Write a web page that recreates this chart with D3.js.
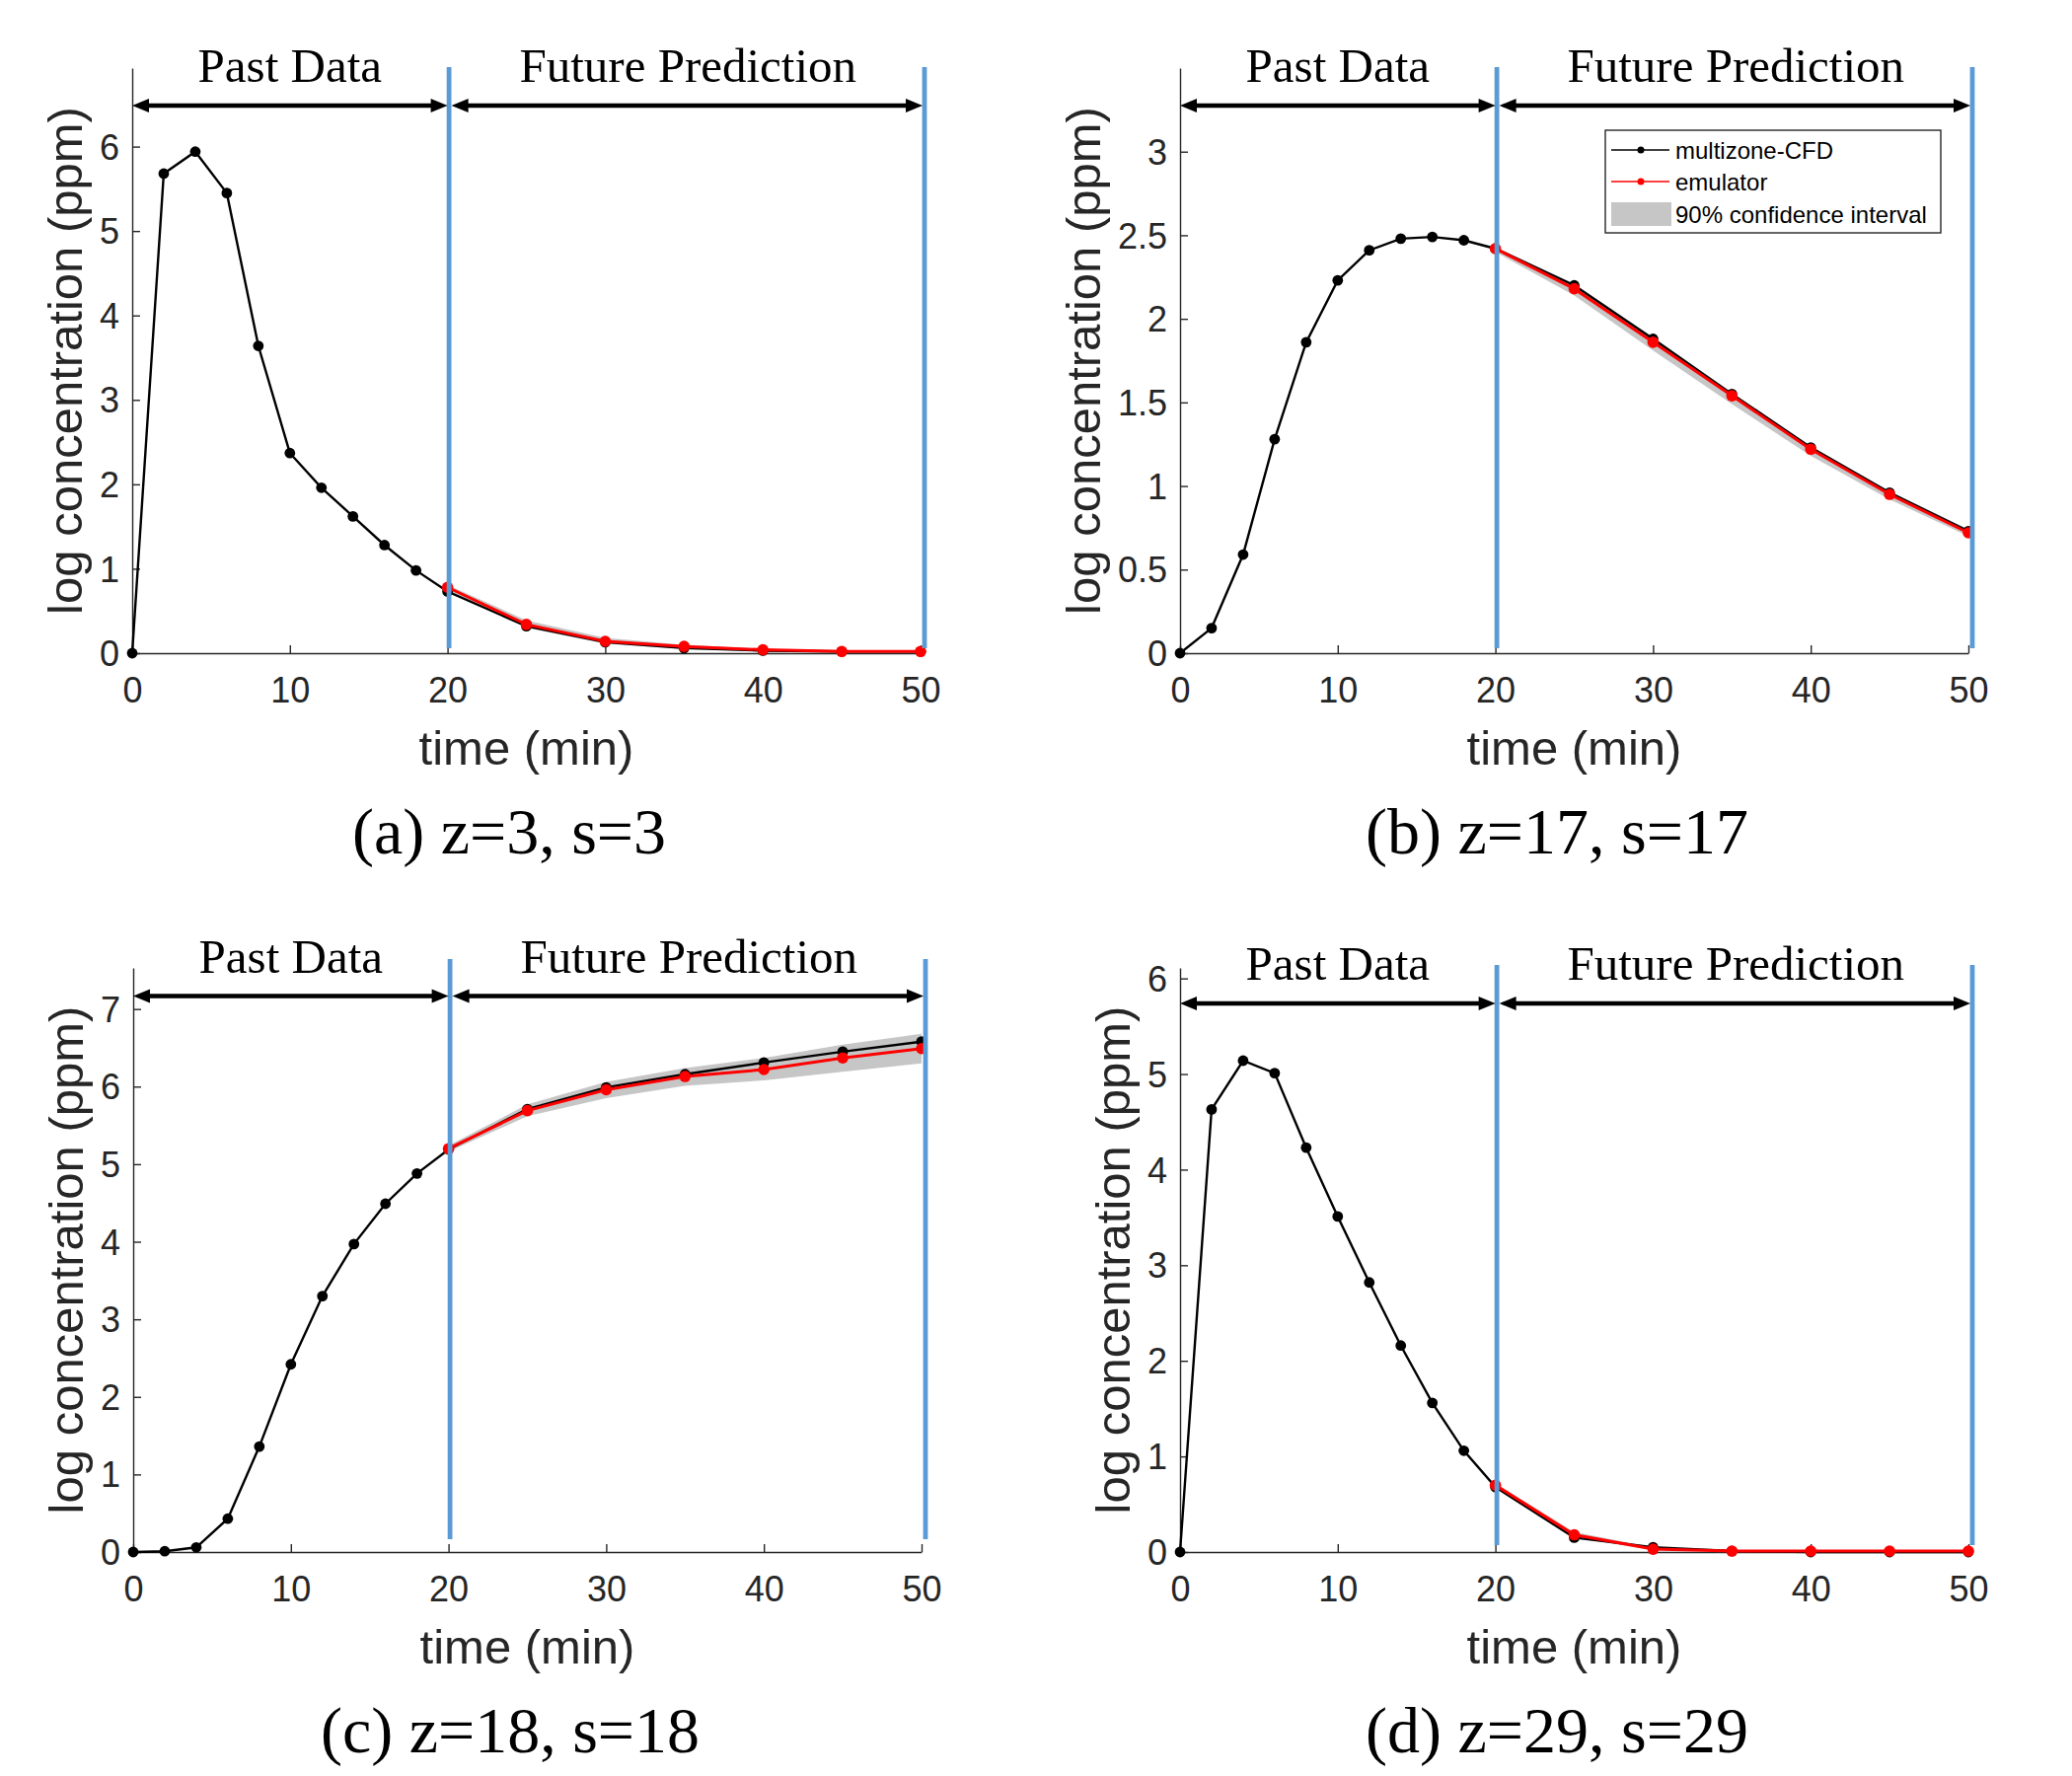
<!DOCTYPE html>
<html>
<head>
<meta charset="utf-8">
<script src="https://cdn.jsdelivr.net/npm/d3@7"></script>
<style>
  body { margin: 0; background: #fff; }
  .axis text { font-family: "Liberation Sans", Arial, sans-serif; font-size: 36px; fill: #262626; }
  .axis path, .axis line { stroke: #262626; stroke-width: 1.4; }
  .axis-title { font-family: "Liberation Sans", Arial, sans-serif; font-size: 49px; fill: #262626; }
  .section-title { font-family: "Liberation Serif", "Times New Roman", serif; font-size: 49px; fill: #000; }
  .caption { font-family: "Liberation Serif", "Times New Roman", serif; font-size: 66px; fill: #000; }
  .legend-text { font-family: "Liberation Sans", Arial, sans-serif; font-size: 24px; fill: #000; }
</style>
</head>
<body>
<svg id="figure" width="2100" height="1800"></svg>
<script>
// shared time grid (min)
const timePoints = [0, 2, 4, 6, 8, 10, 12, 14, 16, 18, 20, 25, 30, 35, 40, 45, 50];
const futureTimes = [20, 25, 30, 35, 40, 45, 50];
const xTickValues = [0, 10, 20, 30, 40, 50];

// (a) z=3, s=3
const cfdA = [0, 5.68, 5.94, 5.45, 3.64, 2.37, 1.96, 1.62, 1.28, 0.98, 0.73, 0.32, 0.13, 0.06, 0.03, 0.02, 0.02];
const emuA = [0.78, 0.34, 0.14, 0.08, 0.04, 0.02, 0.02];
const ciLowA = [0.74, 0.30, 0.11, 0.05, 0.02, 0.01, 0.01];
const ciHighA = [0.81, 0.39, 0.18, 0.10, 0.05, 0.03, 0.03];
const yTicksA = [0, 1, 2, 3, 4, 5, 6];

// (b) z=17, s=17
const cfdB = [0, 0.15, 0.59, 1.28, 1.86, 2.23, 2.41, 2.48, 2.49, 2.47, 2.42, 2.20, 1.88, 1.55, 1.23, 0.96, 0.73];
const emuB = [2.42, 2.18, 1.86, 1.54, 1.22, 0.95, 0.72];
const ciLowB = [2.40, 2.14, 1.81, 1.49, 1.18, 0.92, 0.70];
const ciHighB = [2.43, 2.21, 1.89, 1.56, 1.24, 0.97, 0.74];
const yTicksB = [0, 0.5, 1, 1.5, 2, 2.5, 3];

// (c) z=18, s=18
const cfdC = [0, 0.01, 0.06, 0.43, 1.36, 2.42, 3.30, 3.97, 4.49, 4.88, 5.19, 5.71, 5.99, 6.16, 6.31, 6.45, 6.58];
const emuC = [5.20, 5.69, 5.96, 6.13, 6.22, 6.37, 6.49];
const ciLowC = [5.16, 5.62, 5.85, 6.01, 6.08, 6.19, 6.30];
const ciHighC = [5.24, 5.77, 6.06, 6.24, 6.37, 6.54, 6.68];
const yTicksC = [0, 1, 2, 3, 4, 5, 6, 7];

// (d) z=29, s=29
const cfdD = [0, 4.63, 5.14, 5.01, 4.23, 3.51, 2.82, 2.16, 1.56, 1.06, 0.68, 0.15, 0.05, 0.01, 0, 0, 0];
const emuD = [0.70, 0.18, 0.03, 0.01, 0.01, 0.01, 0.01];
const ciLowD = [0.67, 0.15, 0.02, 0, 0, 0, 0];
const ciHighD = [0.72, 0.21, 0.05, 0.02, 0.02, 0.02, 0.02];
const yTicksD = [0, 1, 2, 3, 4, 5, 6];

const yLimits = [6.93, 3.5, 7.53, 6.11];
const captions = ['(a) z=3, s=3', '(b) z=17, s=17', '(c) z=18, s=18', '(d) z=29, s=29'];
const sectionLabels = ['Past Data', 'Future Prediction'];
const legendLabels = ['multizone-CFD', 'emulator', '90% confidence interval'];
const xLabel = 'time (min)';
const yLabel = 'log concentration (ppm)';

class ConcentrationPanel {

  constructor(_config, _data) {
    this.config = {
      parent: _config.parent,
      left: _config.left,
      top: _config.top,
      width: _config.width || 799,
      height: _config.height || 593,
      yMax: _config.yMax,
      yTicks: _config.yTicks,
      arrowY: _config.arrowY,
      blueTop: _config.blueTop,
      blueBottom: _config.blueBottom,
      caption: _config.caption,
      showLegend: _config.showLegend || false
    };
    this.data = _data;
    this.initVis();
  }

  initVis() {
    let vis = this;
    const cfg = vis.config;

    vis.chart = cfg.parent.append('g')
        .attr('transform', `translate(${cfg.left},${cfg.top})`);

    vis.xScale = d3.scaleLinear().domain([0, 50]).range([0, cfg.width]);
    vis.yScale = d3.scaleLinear().domain([0, cfg.yMax]).range([cfg.height, 0]);

    vis.xAxis = d3.axisBottom(vis.xScale)
        .tickValues(xTickValues)
        .tickSizeInner(-8)
        .tickSizeOuter(0)
        .tickPadding(24);

    vis.yAxis = d3.axisLeft(vis.yScale)
        .tickValues(cfg.yTicks)
        .tickFormat(d => String(d))
        .tickSizeInner(-8)
        .tickSizeOuter(0)
        .tickPadding(13);

    vis.xAxisG = vis.chart.append('g')
        .attr('class', 'axis x-axis')
        .attr('transform', `translate(0,${cfg.height})`);
    vis.yAxisG = vis.chart.append('g')
        .attr('class', 'axis y-axis');

    vis.renderVis();
  }

  renderVis() {
    let vis = this;
    const cfg = vis.config;
    const x = vis.xScale, y = vis.yScale;

    vis.xAxisG.call(vis.xAxis);
    vis.yAxisG.call(vis.yAxis);
    vis.yAxisG.selectAll('text').attr('dy', '0.35em');

    // confidence band
    const band = futureTimes.map((t, i) => ({t, lo: vis.data.lo[i], hi: vis.data.hi[i]}));
    vis.chart.append('path')
        .datum(band)
        .attr('fill', '#c6c6c6')
        .attr('d', d3.area().x(d => x(d.t)).y0(d => y(d.lo)).y1(d => y(d.hi)));

    // simulator (black) and emulator (red)
    const cfd = timePoints.map((t, i) => ({t, v: vis.data.cfd[i]}));
    const emu = futureTimes.map((t, i) => ({t, v: vis.data.emu[i]}));
    const line = d3.line().x(d => x(d.t)).y(d => y(d.v));

    vis.chart.append('path').datum(cfd)
        .attr('fill', 'none').attr('stroke', '#000').attr('stroke-width', 2.4)
        .attr('d', line);
    vis.chart.selectAll('.cfd-dot').data(cfd).join('circle')
        .attr('class', 'cfd-dot')
        .attr('cx', d => x(d.t)).attr('cy', d => y(d.v)).attr('r', 5.4)
        .attr('fill', '#000');

    vis.chart.append('path').datum(emu)
        .attr('fill', 'none').attr('stroke', '#ff0000').attr('stroke-width', 3)
        .attr('d', line);
    vis.chart.selectAll('.emu-dot').data(emu).join('circle')
        .attr('class', 'emu-dot')
        .attr('cx', d => x(d.t)).attr('cy', d => y(d.v)).attr('r', 5.8)
        .attr('fill', '#ff0000');

    // blue separators
    [x(20) + 1.5, x(50) + 4].forEach(bx => {
      vis.chart.append('line')
          .attr('x1', bx).attr('x2', bx)
          .attr('y1', cfg.blueTop).attr('y2', cfg.height + cfg.blueBottom)
          .attr('stroke', '#5b9bd5').attr('stroke-width', 4.8);
    });

    // double-headed arrows with section titles
    vis.drawArrow(x(0), x(20), cfg.arrowY);
    vis.drawArrow(x(20) + 4, x(50) + 2, cfg.arrowY);
    vis.chart.append('text').attr('class', 'section-title')
        .attr('x', (x(0) + x(20)) / 2).attr('y', cfg.arrowY - 24)
        .attr('text-anchor', 'middle').text(sectionLabels[0]);
    vis.chart.append('text').attr('class', 'section-title')
        .attr('x', (x(20) + x(50)) / 2 + 4).attr('y', cfg.arrowY - 24)
        .attr('text-anchor', 'middle').text(sectionLabels[1]);

    // axis titles
    vis.chart.append('text').attr('class', 'axis-title')
        .attr('x', cfg.width / 2).attr('y', cfg.height + 113)
        .attr('text-anchor', 'middle').text(xLabel);
    const tickBox = vis.yAxisG.node().getBBox();
    vis.chart.append('text').attr('class', 'axis-title')
        .attr('transform', `translate(${tickBox.x - 18},${cfg.height / 2}) rotate(-90)`)
        .attr('text-anchor', 'middle').text(yLabel);

    // sub-figure caption
    vis.chart.append('text').attr('class', 'caption')
        .attr('x', 382).attr('y', cfg.height + 203)
        .attr('text-anchor', 'middle').text(cfg.caption);

    if (cfg.showLegend) vis.drawLegend();
  }

  drawArrow(x1, x2, yPos) {
    const g = this.chart.append('g');
    const h = 17, w = 7;
    g.append('line')
        .attr('x1', x1 + h - 2).attr('x2', x2 - h + 2)
        .attr('y1', yPos).attr('y2', yPos)
        .attr('stroke', '#000').attr('stroke-width', 4.6);
    g.append('path').attr('d', `M${x1},${yPos}L${x1 + h},${yPos - w}L${x1 + h},${yPos + w}Z`).attr('fill', '#000');
    g.append('path').attr('d', `M${x2},${yPos}L${x2 - h},${yPos - w}L${x2 - h},${yPos + w}Z`).attr('fill', '#000');
  }

  drawLegend() {
    const leg = this.chart.append('g').attr('transform', 'translate(431,63)');
    leg.append('rect')
        .attr('width', 340).attr('height', 104)
        .attr('fill', '#fff').attr('stroke', '#262626').attr('stroke-width', 1.4);
    const rows = [20, 52, 85];
    const colors = ['#000', '#ff0000'];
    colors.forEach((c, i) => {
      leg.append('line').attr('x1', 6).attr('x2', 65)
          .attr('y1', rows[i]).attr('y2', rows[i])
          .attr('stroke', c).attr('stroke-width', 1.6);
      leg.append('circle').attr('cx', 36).attr('cy', rows[i]).attr('r', 3.5).attr('fill', c);
    });
    leg.append('rect').attr('x', 6).attr('y', rows[2] - 12).attr('width', 61).attr('height', 24)
        .attr('fill', '#c6c6c6');
    legendLabels.forEach((lab, i) => {
      leg.append('text').attr('class', 'legend-text')
          .attr('x', 71).attr('y', rows[i] + 8.5).text(lab);
    });
  }
}

const svg = d3.select('#figure');
svg.append('rect').attr('width', 2100).attr('height', 1800).attr('fill', '#fff');

new ConcentrationPanel(
  {parent: svg, left: 134, top: 69, yMax: yLimits[0], yTicks: yTicksA,
   arrowY: 38, blueTop: -1, blueBottom: -5, caption: captions[0]},
  {cfd: cfdA, emu: emuA, lo: ciLowA, hi: ciHighA});
new ConcentrationPanel(
  {parent: svg, left: 1196, top: 69, yMax: yLimits[1], yTicks: yTicksB,
   arrowY: 38, blueTop: -1, blueBottom: -5, caption: captions[1], showLegend: true},
  {cfd: cfdB, emu: emuB, lo: ciLowB, hi: ciHighB});
new ConcentrationPanel(
  {parent: svg, left: 135, top: 981, height: 592, yMax: yLimits[2], yTicks: yTicksC,
   arrowY: 28.5, blueTop: -9, blueBottom: -13, caption: captions[2]},
  {cfd: cfdC, emu: emuC, lo: ciLowC, hi: ciHighC});
new ConcentrationPanel(
  {parent: svg, left: 1196, top: 981, height: 592, yMax: yLimits[3], yTicks: yTicksD,
   arrowY: 36, blueTop: -3, blueBottom: -7, caption: captions[3]},
  {cfd: cfdD, emu: emuD, lo: ciLowD, hi: ciHighD});
</script>
</body>
</html>
